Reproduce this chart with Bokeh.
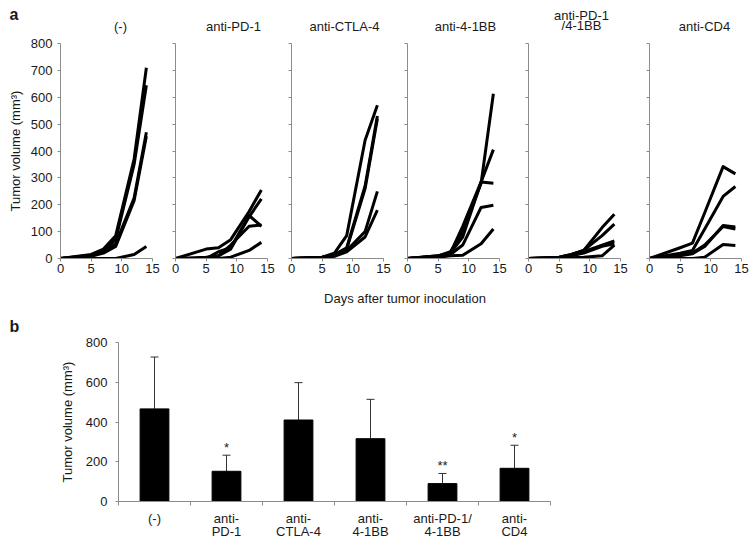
from bokeh.plotting import figure
from bokeh.layouts import row, column
from bokeh.models import FixedTicker, Range1d, Whisker, TeeHead, ColumnDataSource
from bokeh.embed import file_html
from bokeh.resources import INLINE
from bokeh.core.properties import value

FONT = "Liberation Sans"
TXT = "#1a1a1a"
AX = "#8c8c8c"

# ---------------- data: panel a (individual tumour growth curves) ----------------
days = [0, 5, 7, 9, 12, 14]
titles_a = ["(-)", "anti-PD-1", "anti-CTLA-4", "anti-4-1BB", "anti-PD-1\n/4-1BB", "anti-CD4"]

vol_ctrl = [[0, 15, 35, 85, 370, 710],
            [0, 12, 30, 70, 350, 645],
            [0, 10, 25, 55, 225, 470],
            [0, 8, 20, 45, 215, 455],
            [0, 0, 0, 0, 15, 45]]
vol_pd1 = [[0, 35, 40, 70, 175, 255],
           [0, 5, 10, 35, 155, 222],
           [0, 0, 25, 40, 160, 120],
           [0, 0, 10, 50, 120, 125],
           [0, 0, 0, 5, 30, 60]]
vol_ctla4 = [[0, 5, 20, 85, 440, 570],
             [0, 5, 15, 40, 270, 530],
             [0, 5, 12, 35, 260, 520],
             [0, 3, 10, 30, 100, 250],
             [0, 3, 8, 25, 80, 180]]
vol_41bb = [[0, 10, 25, 100, 280, 613],
            [0, 10, 20, 80, 285, 405],
            [0, 8, 20, 120, 285, 280],
            [0, 8, 15, 50, 190, 198],
            [0, 5, 10, 12, 55, 110]]
vol_pd1_41bb = [[0, 5, 15, 30, 115, 165],
                [0, 5, 15, 30, 85, 128],
                [0, 3, 12, 25, 50, 65],
                [0, 3, 10, 20, 45, 55],
                [0, 0, 3, 5, 10, 50]]
vol_cd4 = [[0, 40, 57, 170, 342, 315],
           [0, 20, 30, 110, 231, 268],
           [0, 15, 20, 50, 119, 110],
           [0, 10, 18, 45, 123, 117],
           [0, 0, 0, 5, 52, 48]]
groups_a = [vol_ctrl, vol_pd1, vol_ctla4, vol_41bb, vol_pd1_41bb, vol_cd4]
x_ticks_a = [0, 5, 10, 15]
y_ticks_a = [0, 100, 200, 300, 400, 500, 600, 700, 800]
xlabel_a = "Days after tumor inoculation"
ylabel = "Tumor volume (mm³)"
panel_letters = ["a", "b"]

# ---------------- data: panel b (mean tumour volume) ----------------
groups_b = ["(-)", "anti-\nPD-1", "anti-\nCTLA-4", "anti-\n4-1BB", "anti-PD-1/\n4-1BB", "anti-\nCD4"]
mean_b = [466, 152, 410, 316, 90, 167]
upper_b = [727, 233, 598, 514, 141, 283]
stars_b = ["", "*", "", "", "**", "*"]
y_ticks_b = [0, 200, 400, 600, 800]

# ---------------- layout (pixels) ----------------
W = 750
FW = 92                                   # frame width of each small multiple
frame_lefts = [60, 175, 291, 407, 528, 649]
canvas_edges = [0, 165, 281, 397, 518, 639, W]
title_shift = [14, 12, 7, 12, 7, 9]
TOP_STRIP = 35
MID_STRIP = 56


def style_axes(p):
    for ax in (p.xaxis[0], p.yaxis[0]):
        ax.axis_line_color = AX
        ax.axis_line_width = 1
        ax.major_tick_line_color = AX
        ax.major_tick_in = 0
        ax.major_tick_out = 3
        ax.minor_tick_line_color = None
        ax.major_label_text_font = FONT
        ax.major_label_text_font_size = "13px"
        ax.major_label_text_color = TXT
        ax.axis_label_text_font = FONT
        ax.axis_label_text_font_size = "13px"
        ax.axis_label_text_font_style = "normal"
        ax.axis_label_text_color = TXT
    p.xgrid.visible = False
    p.ygrid.visible = False
    p.outline_line_color = None
    p.background_fill_color = "white"
    p.border_fill_color = "white"


def strip_figure(height):
    s = figure(width=W, height=height, x_range=Range1d(0, W), y_range=Range1d(height, 0),
               min_border=0, x_axis_location=None, y_axis_location=None,
               title_location=None, output_backend="svg", toolbar_location=None)
    s.xgrid.visible = False
    s.ygrid.visible = False
    s.outline_line_color = None
    s.background_fill_color = "white"
    s.border_fill_color = "white"
    return s


# ---------------- header strip: panel letter + group titles ----------------
top = strip_figure(TOP_STRIP)
tx = [fl + FW / 2 + sh for fl, sh in zip(frame_lefts, title_shift)]
ty = [20 if "\n" in t else 26 for t in titles_a]
top.text(x=tx, y=ty, text=titles_a, text_align="center", text_baseline="middle",
         text_font=value(FONT), text_font_size="13px", text_color=TXT, text_line_height=0.7)
top.text(x=[9], y=[14], text=[panel_letters[0]], text_align="left", text_baseline="middle",
         text_font=value(FONT), text_font_size="16px", text_font_style="bold", text_color=TXT)

# ---------------- panel a small multiples ----------------
figs_a = []
for i, mice in enumerate(groups_a):
    left = frame_lefts[i] - canvas_edges[i]
    right = canvas_edges[i + 1] - frame_lefts[i] - FW
    p = figure(frame_width=FW, frame_height=215,
               x_range=Range1d(0, 15), y_range=Range1d(0, 800),
               min_border_left=left, min_border_right=right,
               min_border_top=8, min_border_bottom=22, title_location=None,
               output_backend="svg", toolbar_location=None)
    for vals in mice:
        p.line(days, vals, line_width=3, line_color="black", line_join="round")
    style_axes(p)
    p.xaxis.ticker = FixedTicker(ticks=x_ticks_a)
    p.xaxis.major_label_standoff = 2
    if i == 0:
        p.yaxis.ticker = FixedTicker(ticks=y_ticks_a)
        p.yaxis.major_label_standoff = 5
        p.yaxis.axis_label = ylabel
        p.yaxis.axis_label_standoff = 5
    else:
        p.yaxis.ticker = FixedTicker(ticks=[], minor_ticks=y_ticks_a)
        p.yaxis.minor_tick_line_color = AX
        p.yaxis.minor_tick_out = 3
        p.yaxis.minor_tick_in = 0
    figs_a.append(p)

# ---------------- middle strip: shared x title of panel a + letter b ----------------
mid = strip_figure(MID_STRIP)
mid.text(x=[(frame_lefts[0] + frame_lefts[-1] + FW) / 2 + 4], y=[18], text=[xlabel_a],
         text_align="center", text_baseline="middle",
         text_font=value(FONT), text_font_size="13px", text_color=TXT)
mid.text(x=[9], y=[MID_STRIP - 10], text=[panel_letters[1]], text_align="left",
         text_baseline="middle", text_font=value(FONT), text_font_size="16px",
         text_font_style="bold", text_color=TXT)

# ---------------- panel b ----------------
xs = [i + 0.5 for i in range(len(groups_b))]
pb = figure(frame_width=432, frame_height=159,
            x_range=Range1d(0, len(groups_b)), y_range=Range1d(0, 800),
            min_border_left=118, min_border_right=W - 118 - 432,
            min_border_top=6, min_border_bottom=38, title_location=None,
            output_backend="svg", toolbar_location=None)
pb.vbar(x=xs, top=mean_b, width=0.4, fill_color="black", line_color="black")
src = ColumnDataSource(dict(x=xs, lo=mean_b, hi=upper_b))
pb.add_layout(Whisker(source=src, base="x", lower="lo", upper="hi",
                      line_color="#333333", line_width=1,
                      upper_head=TeeHead(size=8, line_color="#333333", line_width=1),
                      lower_head=None))
pb.text(x=xs, y=upper_b, text=stars_b, text_align="center", text_baseline="bottom",
        text_font=value(FONT), text_font_size="13px", text_color=TXT)
style_axes(pb)
pb.xaxis.ticker = FixedTicker(ticks=xs, minor_ticks=list(range(len(groups_b) + 1)))
pb.xaxis.major_label_overrides = {x: g for x, g in zip(xs, groups_b)}
pb.xaxis.major_tick_out = 0
pb.xaxis.minor_tick_line_color = AX
pb.xaxis.minor_tick_out = 4
pb.xaxis.minor_tick_in = 0
pb.xaxis.major_label_standoff = 5
pb.xaxis.major_label_text_line_height = 0.93
pb.yaxis.ticker = FixedTicker(ticks=y_ticks_b)
pb.yaxis.major_label_standoff = 8
pb.yaxis.axis_label = ylabel
pb.yaxis.axis_label_standoff = 8

layout = column(row(top, spacing=0), row(*figs_a, spacing=0),
                row(mid, spacing=0), row(pb, spacing=0), spacing=0)
open("out.html", "w").write(file_html(layout, INLINE))
